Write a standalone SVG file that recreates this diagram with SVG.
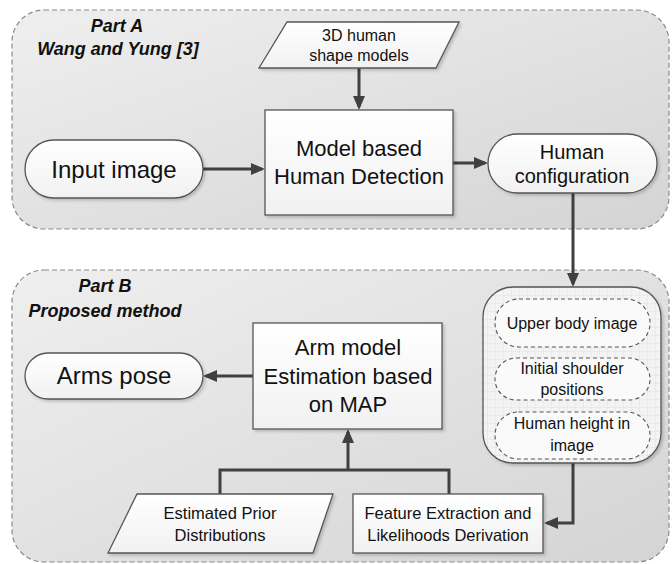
<svg xmlns="http://www.w3.org/2000/svg" width="672" height="564" viewBox="0 0 672 564">
<defs>
<linearGradient id="gPart" x1="0" y1="0" x2="1" y2="1">
<stop offset="0" stop-color="#efefef"/>
<stop offset="1" stop-color="#d4d4d4"/>
</linearGradient>
<linearGradient id="gNode" x1="0" y1="0" x2="0" y2="1">
<stop offset="0" stop-color="#ffffff"/>
<stop offset="1" stop-color="#f1f1f1"/>
</linearGradient>
<pattern id="grid" width="8" height="8" patternUnits="userSpaceOnUse">
<rect width="8" height="8" fill="#f3f3f3"/>
<path d="M8,0 V8 M0,8 H8" stroke="#e2e2e2" stroke-width="1" fill="none"/>
</pattern>
<marker id="arr" viewBox="0 0 14 12" markerWidth="14" markerHeight="12" refX="11" refY="6" orient="auto" markerUnits="userSpaceOnUse">
<path d="M0,0 L14,6 L0,12 Z" fill="#404040"/>
</marker>
<filter id="sh" x="-10%" y="-10%" width="130%" height="130%">
<feDropShadow dx="2" dy="2" stdDeviation="1.5" flood-color="#000" flood-opacity="0.18"/>
</filter>
</defs>
<style>
.part{fill:url(#gPart);stroke:#8a8a8a;stroke-width:1.2;stroke-dasharray:5 3}
.node{fill:url(#gNode);stroke:#555;stroke-width:1.3;filter:url(#sh)}
.sub{fill:#fafafa;stroke:#555;stroke-width:1.1;stroke-dasharray:4 3}
.cont{fill:url(#grid);stroke:#555;stroke-width:1.3;filter:url(#sh)}
.t{font-family:"Liberation Sans",Arial,sans-serif;fill:#111;text-anchor:middle}
.title{font-family:"Liberation Sans",Arial,sans-serif;font-weight:bold;font-style:italic;font-size:18px;fill:#111;text-anchor:middle}
.c{fill:none;stroke:#404040;stroke-width:3}
</style>
<g id="partA">
<rect class="part" x="12" y="10" width="657" height="219" rx="32"/>
<text class="title" x="117" y="32">Part A</text>
<text class="title" x="118" y="55">Wang and Yung [3]</text>
</g>
<g id="partB">
<rect class="part" x="12" y="270" width="657" height="292" rx="32"/>
<text class="title" x="105" y="292">Part B</text>
<text class="title" x="105" y="317">Proposed method</text>
</g>
<g id="connectors">
<path class="c" d="M359,68 V107" marker-end="url(#arr)"/>
<path class="c" d="M203,169 H262" marker-end="url(#arr)"/>
<path class="c" d="M453,163 H485" marker-end="url(#arr)"/>
<path class="c" d="M573,193 V284" marker-end="url(#arr)"/>
<path class="c" d="M253,376 H206" marker-end="url(#arr)"/>
<path class="c" d="M220,494 V470 H449 V494"/>
<path class="c" d="M348,470 V432" marker-end="url(#arr)"/>
<path class="c" d="M573,463 V523 H547" marker-end="url(#arr)"/>
</g>
<g id="shapeModels">
<polygon class="node" points="287,22 459,22 436,68 259,68"/>
<text class="t" font-size="16" x="359" y="41">3D human</text>
<text class="t" font-size="16" x="359" y="61">shape models</text>
</g>
<g id="inputImage">
<rect class="node" x="25" y="140" width="178" height="58" rx="29"/>
<text class="t" font-size="24" x="114" y="178">Input image</text>
</g>
<g id="modelDetection">
<rect class="node" x="265" y="110" width="188" height="105"/>
<text class="t" font-size="22" x="359" y="156">Model based</text>
<text class="t" font-size="22" x="359" y="184">Human Detection</text>
</g>
<g id="humanConfig">
<rect class="node" x="488" y="134" width="169" height="59" rx="29.5"/>
<text class="t" font-size="20" x="572" y="159">Human</text>
<text class="t" font-size="20" x="572" y="183">configuration</text>
</g>
<g id="features">
<rect class="cont" x="483" y="287" width="178" height="176" rx="30"/>
<g id="upperBody">
<rect class="sub" x="495" y="299" width="155" height="48" rx="24"/>
<text class="t" font-size="16" x="572" y="329">Upper body image</text>
</g>
<g id="shoulders">
<rect class="sub" x="495" y="358" width="155" height="42" rx="21"/>
<text class="t" font-size="16" x="572" y="374">Initial shoulder</text>
<text class="t" font-size="16" x="572" y="395">positions</text>
</g>
<g id="height">
<rect class="sub" x="495" y="412" width="155" height="47" rx="23.5"/>
<text class="t" font-size="16" x="572" y="429">Human height in</text>
<text class="t" font-size="16" x="572" y="451">image</text>
</g>
</g>
<g id="armsPose">
<rect class="node" x="25" y="353" width="178" height="46" rx="23"/>
<text class="t" font-size="24" x="114" y="384">Arms pose</text>
</g>
<g id="armModel">
<rect class="node" x="253" y="323" width="189" height="106"/>
<text class="t" font-size="22" x="348" y="355">Arm model</text>
<text class="t" font-size="22" x="348" y="384">Estimation based</text>
<text class="t" font-size="22" x="348" y="412">on MAP</text>
</g>
<g id="prior">
<polygon class="node" points="137,494 333,494 313,553 108,553"/>
<text class="t" font-size="16.5" x="220" y="519">Estimated Prior</text>
<text class="t" font-size="16.5" x="220" y="541">Distributions</text>
</g>
<g id="featureExtraction">
<rect class="node" x="353" y="494" width="190" height="59"/>
<text class="t" font-size="16.5" x="448" y="519">Feature Extraction and</text>
<text class="t" font-size="16.5" x="448" y="541">Likelihoods Derivation</text>
</g>
</svg>
